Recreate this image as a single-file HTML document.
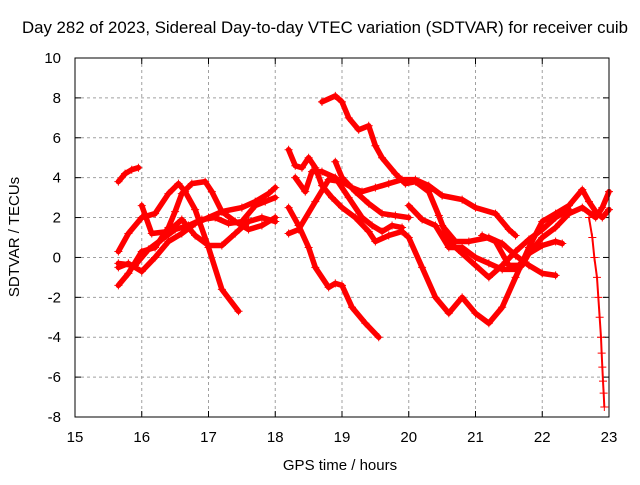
<!DOCTYPE html>
<html><head><meta charset="utf-8"><style>
body{margin:0;background:#fff;font-family:"Liberation Sans",sans-serif}
svg text{font-family:"Liberation Sans",sans-serif;font-size:15px;fill:#000}
</style></head><body>
<svg id="chart" width="640" height="480" xmlns="http://www.w3.org/2000/svg">
<text x="325" y="33" text-anchor="middle" style="font-size:16.5px" textLength="606" lengthAdjust="spacingAndGlyphs">Day 282 of 2023, Sidereal Day-to-day VTEC variation (SDTVAR) for receiver cuib</text>
<text x="340" y="470" text-anchor="middle">GPS time / hours</text>
<text transform="translate(19,237) rotate(-90)" text-anchor="middle">SDTVAR / TECUs</text>
<g id="grid"></g><g id="ticks"></g><g id="series"></g>
<rect x="75" y="58" width="534" height="359" fill="none" stroke="#000" stroke-width="1"/>
</svg>
<script>
const xTicks=[15,16,17,18,19,20,21,22,23];
const yTicks=[-8,-6,-4,-2,0,2,4,6,8,10];
const t1=[[15.65,0.3],[15.8,1.2],[16.0,2.0],[16.2,2.2],[16.4,3.2],[16.55,3.7],[16.65,3.3],[16.8,2.4],[17.0,0.5],[17.2,-1.6],[17.45,-2.7]];
const t2=[[15.65,-1.4],[15.8,-0.8],[16.0,0.3],[16.2,0.5],[16.4,1.5],[16.5,2.3],[16.6,3.2],[16.75,3.7],[16.95,3.8],[17.05,3.3],[17.2,2.3],[17.4,1.8],[17.6,1.4],[17.8,1.6],[18.0,2.0]];
const t3=[[15.65,-0.5],[15.8,-0.3],[16.0,-0.7],[16.2,0.0],[16.4,0.8],[16.6,1.2],[16.8,1.7],[17.0,2.0],[17.2,2.3],[17.5,2.5],[17.7,2.8],[17.9,3.2],[18.0,3.5]];
const t4=[[15.65,-0.3],[15.9,-0.4],[16.1,0.4],[16.3,0.9],[16.5,1.4],[16.7,1.6],[16.9,1.9],[17.1,2.0],[17.3,1.7],[17.5,1.8],[17.7,2.6],[17.85,2.8],[18.0,3.0]];
const t5=[[16.0,2.6],[16.15,1.2],[16.4,1.3],[16.6,1.9],[16.8,1.1],[17.0,0.6],[17.2,0.6],[17.4,1.2],[17.6,1.8],[17.8,2.0],[18.0,1.8]];
const t6=[[15.65,3.8],[15.75,4.2],[15.85,4.4],[15.95,4.5]];
const u1=[[18.2,5.4],[18.3,4.6],[18.4,4.5],[18.5,5.0],[18.6,4.5],[18.7,3.6],[18.85,3.0],[19.0,2.5],[19.2,2.0],[19.4,1.3],[19.5,0.8],[19.7,1.1],[19.9,1.3],[20.0,1.0],[20.2,-0.5],[20.4,-2.0],[20.6,-2.8],[20.8,-2.0],[21.0,-2.8],[21.2,-3.3],[21.4,-2.5],[21.6,-1.0],[21.8,0.5],[22.0,1.8],[22.2,2.2],[22.4,2.6],[22.6,3.4],[22.7,2.8],[22.8,2.3],[22.9,2.0],[23.0,2.4]];
const u2=[[18.2,2.5],[18.35,1.6],[18.5,0.5],[18.6,-0.5],[18.8,-1.5],[18.9,-1.3],[19.0,-1.4],[19.15,-2.5],[19.35,-3.3],[19.55,-4.0]];
const u3=[[18.2,1.2],[18.35,1.4],[18.6,2.8],[18.8,3.9],[19.0,3.8],[19.15,3.5],[19.3,3.3],[19.5,3.5],[19.7,3.7],[19.9,3.9],[20.1,3.9],[20.3,3.6],[20.5,3.1],[20.8,2.9],[21.0,2.5],[21.3,2.2],[21.5,1.4],[21.6,1.1]];
const u4=[[18.7,7.8],[18.9,8.1],[19.0,7.8],[19.1,7.0],[19.25,6.4],[19.4,6.6],[19.5,5.6],[19.6,5.0],[19.8,4.2],[19.95,3.7],[20.1,3.8],[20.3,3.3],[20.45,2.1],[20.6,0.8],[20.8,0.2],[21.0,-0.4],[21.2,-1.0],[21.4,-0.4],[21.6,0.3],[21.8,0.9],[22.0,1.4],[22.2,2.0],[22.4,2.4]];
const u5=[[18.3,4.0],[18.45,3.3],[18.55,4.3],[18.7,4.3],[18.9,4.0],[19.1,3.0],[19.3,2.0],[19.45,1.6],[19.6,1.3],[19.75,1.6],[19.9,1.5]];
const u6=[[18.9,4.8],[19.0,4.0],[19.2,3.3],[19.4,2.7],[19.6,2.2],[19.8,2.1],[20.0,2.0]];
const u7=[[20.0,2.6],[20.2,1.9],[20.4,1.6],[20.6,0.5],[20.8,0.5],[21.0,0.0],[21.2,-0.3],[21.4,-0.6],[21.6,-0.6],[21.8,0.2],[22.0,0.6],[22.2,0.8],[22.3,0.7]];
const u8=[[21.1,1.1],[21.3,0.8],[21.5,-0.4],[21.7,-0.4],[21.8,0.2],[22.0,1.0],[22.2,1.5],[22.4,2.2],[22.6,2.5],[22.8,2.0],[22.9,2.5],[23.0,3.3]];
const u9=[[20.5,1.6],[20.7,0.8],[20.9,0.8],[21.2,1.0],[21.4,0.7],[21.6,0.1],[21.8,-0.4],[22.0,-0.8],[22.2,-0.9]];
const u10=[[22.7,2.0],[22.75,1.0],[22.78,0.0],[22.82,-1.0],[22.84,-2.0],[22.86,-3.0],[22.88,-4.0],[22.89,-4.8],[22.9,-5.5],[22.91,-6.2],[22.92,-6.8],[22.93,-7.5]];
const seriesList=[t1,t2,t3,t4,t5,t6,u1,u2,u3,u4,u5,u6,u7,u8,u9];
const sparse=u10;
const X=h=>75+(h-15)*534/8;
const Y=v=>58+(10-v)*359/18;
const NS="http://www.w3.org/2000/svg";
const grid=document.getElementById('grid'),ticks=document.getElementById('ticks'),ser=document.getElementById('series');
function mk(tag,at,parent){const e=document.createElementNS(NS,tag);for(const k in at)e.setAttribute(k,at[k]);parent.appendChild(e);return e;}
xTicks.forEach(t=>{
 if(t>15&&t<23){const g=mk('line',{x1:X(t),x2:X(t),y1:58,y2:417,stroke:'#a0a0a0','stroke-dasharray':'3,3'},grid);
 
 }
 mk('line',{x1:X(t),x2:X(t),y1:417,y2:411,stroke:'#000'},ticks);
 mk('line',{x1:X(t),x2:X(t),y1:58,y2:64,stroke:'#000'},ticks);
 const l=mk('text',{x:X(t),y:442,'text-anchor':'middle'},ticks);l.textContent=t;
 
 
});
yTicks.forEach(t=>{
 if(t>-8&&t<10){const g=mk('line',{x1:75,x2:609,y1:Y(t),y2:Y(t),stroke:'#a0a0a0','stroke-dasharray':'3,3'},grid);
 
 }
 mk('line',{x1:75,x2:81,y1:Y(t),y2:Y(t),stroke:'#000'},ticks);
 mk('line',{x1:609,x2:603,y1:Y(t),y2:Y(t),stroke:'#000'},ticks);
 const l=mk('text',{x:61,y:Y(t)+5,'text-anchor':'end'},ticks);l.textContent=t;
 
 
});
function plus(x,y,p,s){mk('path',{d:`M${x-s},${y}h${2*s}M${x},${y-s}v${2*s}`,stroke:'#f00','stroke-width':1},p);}
seriesList.forEach((s,i)=>{
 const g=mk('g',{},ser);
 
 
 mk('polyline',{points:s.map(p=>X(p[0])+','+Y(p[1])).join(' '),fill:'none',stroke:'#f00','stroke-width':5.5,'stroke-linejoin':'round','stroke-linecap':'round'},g);
 s.forEach(p=>plus(X(p[0]),Y(p[1]),g,4));
});
const sg=mk('g',{},ser);


mk('polyline',{points:sparse.map(p=>X(p[0])+','+Y(p[1])).join(' '),fill:'none',stroke:'#f00','stroke-width':2},sg);
sparse.forEach(p=>plus(X(p[0]),Y(p[1]),sg,4));
</script>
</body></html>
